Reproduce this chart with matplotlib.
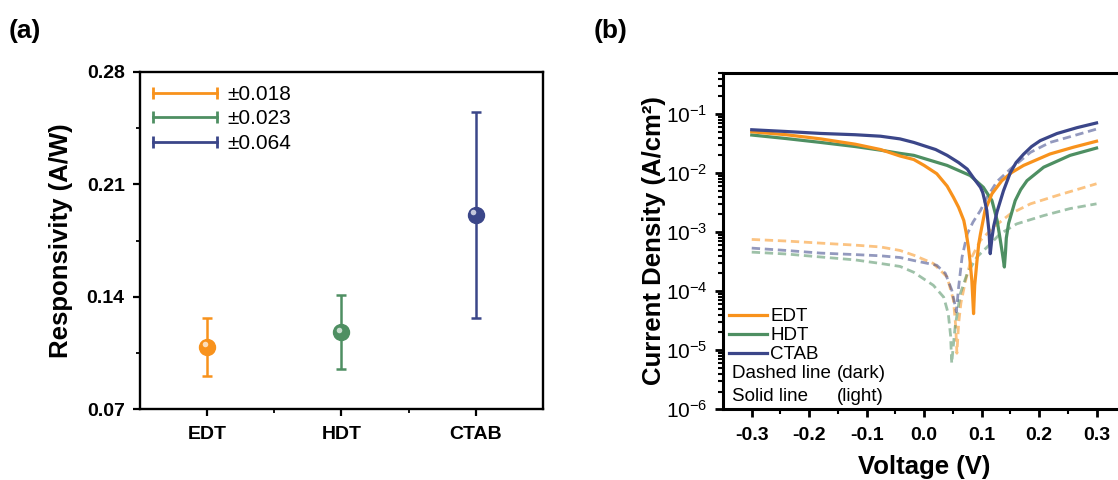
import numpy as np
import matplotlib
matplotlib.use("Agg")
import matplotlib.pyplot as plt
import matplotlib.ticker as ticker
from matplotlib.lines import Line2D
from matplotlib.transforms import offset_copy

plt.rcParams['font.family'] = ['Liberation Sans', 'DejaVu Sans']
plt.rcParams['mathtext.default'] = 'regular'

# colours
c_edt = '#F8921C'
c_hdt = '#4E8F62'
c_ctab = '#3B4689'

# (a) responsivity
samples = ['EDT', 'HDT', 'CTAB']
resp = [0.109, 0.118, 0.191]
resp_err = [0.018, 0.023, 0.064]
err_labels = ['\u00b10.018', '\u00b10.023', '\u00b10.064']

# (b) J-V curves, voltage in V, current density in A/cm2
# light (solid)
v_edt_l = [-0.30, -0.24, -0.18, -0.12, -0.076, -0.042, -0.018, 0.0, 0.022, 0.04, 0.051, 0.060, 0.069,
           0.073, 0.077, 0.080, 0.083, 0.084, 0.086, 0.088, 0.092, 0.095, 0.098, 0.106, 0.118, 0.135,
           0.152, 0.173, 0.219, 0.26, 0.30]
j_edt_l = [0.0501, 0.0447, 0.0380, 0.0309, 0.0251, 0.0195, 0.0170, 0.0135, 0.00977, 0.00603, 0.00389,
           0.00263, 0.00158, 0.0010, 5.62e-4, 3.16e-4, 1.51e-4, 1.0e-4, 4.17e-5, 1.26e-4, 3.31e-4, 6.31e-4,
           9.33e-4, 0.00234, 0.00447, 0.00741, 0.0102, 0.0135, 0.0211, 0.0275, 0.0347]
v_hdt_l = [-0.30, -0.24, -0.18, -0.12, -0.076, -0.042, -0.018, 0.04, 0.080, 0.103, 0.118, 0.127,
           0.132, 0.136, 0.1396, 0.1415, 0.143, 0.147, 0.1585, 0.168, 0.179, 0.208, 0.254, 0.30]
j_hdt_l = [0.0442, 0.0385, 0.0331, 0.0282, 0.0245, 0.0216, 0.0200, 0.0135, 0.00912, 0.00575, 0.00343,
           0.00158, 7.94e-4, 4.47e-4, 2.57e-4, 4.47e-4, 7.94e-4, 0.00141, 0.00343, 0.00525, 0.00746,
           0.0126, 0.0200, 0.0266]
v_ctab_l = [-0.30, -0.24, -0.18, -0.12, -0.076, -0.042, -0.018, 0.02, 0.04, 0.06, 0.075, 0.088, 0.098,
            0.102, 0.105, 0.109, 0.113, 0.115, 0.118, 0.121, 0.127, 0.138, 0.150, 0.160, 0.173, 0.187,
            0.202, 0.231, 0.266, 0.300]
j_ctab_l = [0.0543, 0.0507, 0.0470, 0.0447, 0.0422, 0.0380, 0.0331, 0.0251, 0.0200, 0.0151, 0.0117,
            0.00776, 0.00575, 0.00468, 0.00355, 0.00234, 0.0010, 4.32e-4, 7.94e-4, 0.00126, 0.00224,
            0.00501, 0.0102, 0.0151, 0.0209, 0.0282, 0.0355, 0.0468, 0.0589, 0.0708]
# dark (dashed)
v_edt_d = [-0.30, -0.24, -0.18, -0.12, -0.076, -0.042, -0.018, 0.016, 0.040, 0.051, 0.055, 0.057, 0.060,
           0.064, 0.072, 0.083, 0.098, 0.121, 0.150, 0.185, 0.231, 0.300]
j_edt_d = [7.53e-4, 7.08e-4, 6.52e-4, 6.03e-4, 5.62e-4, 4.90e-4, 4.07e-4, 2.95e-4, 1.74e-4, 7.08e-5, 2.51e-5,
           8.9e-6, 2.82e-5, 6.31e-5, 1.51e-4, 3.80e-4, 7.24e-4, 1.22e-3, 2.04e-3, 3.02e-3, 4.17e-3, 6.61e-3]
v_hdt_d = [-0.30, -0.24, -0.18, -0.12, -0.076, -0.042, -0.018, 0.016, 0.034, 0.042, 0.046, 0.048, 0.051,
           0.054, 0.063, 0.075, 0.092, 0.115, 0.132, 0.161, 0.208, 0.254, 0.300]
j_hdt_d = [4.59e-4, 4.27e-4, 3.80e-4, 3.39e-4, 2.95e-4, 2.63e-4, 2.09e-4, 1.26e-4, 7.94e-5, 4.17e-5, 1.78e-5,
           6.0e-6, 1.26e-5, 2.51e-5, 9.12e-5, 2.00e-4, 3.80e-4, 6.31e-4, 9.33e-4, 1.38e-3, 1.91e-3, 2.51e-3,
           3.02e-3]
v_ctab_d = [-0.30, -0.24, -0.18, -0.12, -0.076, -0.042, -0.018, 0.022, 0.037, 0.048, 0.053, 0.056, 0.060,
            0.066, 0.075, 0.085, 0.098, 0.110, 0.127, 0.150, 0.185, 0.219, 0.260, 0.300]
j_ctab_d = [5.37e-4, 4.90e-4, 4.42e-4, 4.17e-4, 3.98e-4, 3.72e-4, 3.31e-4, 2.75e-4, 2.00e-4, 1.05e-4, 6.31e-5,
            4.47e-5, 1.17e-4, 3.80e-4, 9.33e-4, 1.48e-3, 2.33e-3, 3.98e-3, 7.24e-3, 1.17e-2, 2.25e-2, 3.31e-2,
            4.30e-2, 5.57e-2]

fig = plt.figure(figsize=(11.18, 4.8), dpi=100)

# ---------------- (a) ----------------
ax1 = fig.add_axes([0.1252, 0.1473, 0.3605, 0.7027])
colors = [c_edt, c_hdt, c_ctab]
xpos = np.arange(1, len(samples) + 1)
for i in range(len(samples)):
    ax1.errorbar(xpos[i], resp[i], yerr=resp_err[i], color=colors[i], lw=1.8,
                 capsize=3.8, capthick=1.8, marker='o', ms=11.5, mec=colors[i], mfc=colors[i], zorder=3)
hl = offset_copy(ax1.transData, fig=fig, x=-2.5, y=2.5, units='dots')
ax1.plot(xpos, resp, 'o', ms=4, color='white', alpha=0.7, mec='none', transform=hl, zorder=4)

ax1.set_xlim(0.5, 3.5)
ax1.set_ylim(0.07, 0.28)
ax1.set_xticks(xpos)
ax1.set_xticklabels(samples)
ax1.xaxis.set_minor_locator(ticker.FixedLocator([1.5, 2.5]))
ax1.yaxis.set_major_locator(ticker.MultipleLocator(0.07))
ax1.yaxis.set_minor_locator(ticker.MultipleLocator(0.035))
ax1.yaxis.set_major_formatter(ticker.FormatStrFormatter('%.2f'))
ax1.tick_params(axis='both', which='major', direction='out', length=5, width=1.6, labelsize=14, pad=6)
ax1.tick_params(axis='both', which='minor', direction='out', length=3, width=1.3)
ax1.tick_params(axis='x', which='major', pad=7)
for lab in ax1.get_xticklabels() + ax1.get_yticklabels():
    lab.set_fontweight('bold')
for sp in ax1.spines.values():
    sp.set_linewidth(1.7)
ax1.set_ylabel('Responsivity (A/W)', fontsize=18.5, fontweight='bold', labelpad=10)

handles = [Line2D([], [], color=c, lw=2, marker='|', ms=9, mew=2) for c in colors]
ax1.legend(handles, err_labels, loc='upper left', bbox_to_anchor=(0.017, 0.962), borderaxespad=0,
           borderpad=0, frameon=False, fontsize=15, numpoints=2, handlelength=3.66,
           handletextpad=0.2, labelspacing=0.27)

fig.text(0.008, 0.935, '(a)', fontsize=19, fontweight='bold', va='center')

# ---------------- (b) ----------------
ax2 = fig.add_axes([0.6467, 0.1473, 0.3598, 0.701])
dash = (0, (3.0, 1.7))
ax2.plot(v_edt_d, j_edt_d, color=c_edt, lw=2, ls=dash, alpha=0.55)
ax2.plot(v_hdt_d, j_hdt_d, color=c_hdt, lw=2, ls=dash, alpha=0.55)
ax2.plot(v_ctab_d, j_ctab_d, color=c_ctab, lw=2, ls=dash, alpha=0.55)
l_hdt, = ax2.plot(v_hdt_l, j_hdt_l, color=c_hdt, lw=2.3)
l_edt, = ax2.plot(v_edt_l, j_edt_l, color=c_edt, lw=2.3)
l_ctab, = ax2.plot(v_ctab_l, j_ctab_l, color=c_ctab, lw=2.3)

ax2.set_yscale('log')
ax2.set_xlim(-0.35, 0.35)
ax2.set_ylim(1e-6, 0.5)
ax2.xaxis.set_major_locator(ticker.FixedLocator([-0.3, -0.2, -0.1, 0.0, 0.1, 0.2, 0.3]))
ax2.xaxis.set_major_formatter(ticker.FormatStrFormatter('%.1f'))
ax2.xaxis.set_minor_locator(ticker.FixedLocator([-0.25, -0.15, -0.05, 0.05, 0.15, 0.25]))
ax2.yaxis.set_major_locator(ticker.LogLocator(base=10, numticks=10))
ax2.yaxis.set_minor_locator(ticker.LogLocator(base=10, subs=np.arange(2, 10), numticks=20))
ax2.yaxis.set_minor_formatter(ticker.NullFormatter())
ax2.tick_params(axis='both', which='major', direction='out', length=6, width=2, pad=5)
ax2.tick_params(axis='both', which='minor', direction='out', length=3.5, width=1.5)
ax2.tick_params(axis='x', which='major', labelsize=14, pad=7)
ax2.tick_params(axis='y', which='major', labelsize=15)
for lab in ax2.get_xticklabels():
    lab.set_fontweight('bold')
for sp in ax2.spines.values():
    sp.set_linewidth(2.2)
ax2.set_xlabel('Voltage (V)', fontsize=18.5, fontweight='bold', labelpad=8)
ax2.set_ylabel('Current Density (A/cm\u00b2)', fontsize=18.5, fontweight='bold', labelpad=0)

ax2.legend([l_edt, l_hdt, l_ctab], samples, loc='upper left', bbox_to_anchor=(0.015, 0.30),
           borderaxespad=0, borderpad=0, frameon=False, fontsize=13.5, handlelength=2.05,
           handletextpad=0.15, labelspacing=0.1)
ax2.text(0.022, 0.107, 'Dashed line', transform=ax2.transAxes, fontsize=13.5, va='center')
ax2.text(0.284, 0.107, '(dark)', transform=ax2.transAxes, fontsize=13.5, va='center')
ax2.text(0.022, 0.037, 'Solid line', transform=ax2.transAxes, fontsize=13.5, va='center')
ax2.text(0.284, 0.037, '(light)', transform=ax2.transAxes, fontsize=13.5, va='center')

fig.text(0.531, 0.935, '(b)', fontsize=19, fontweight='bold', va='center')

fig.savefig('out.png', dpi=100)
